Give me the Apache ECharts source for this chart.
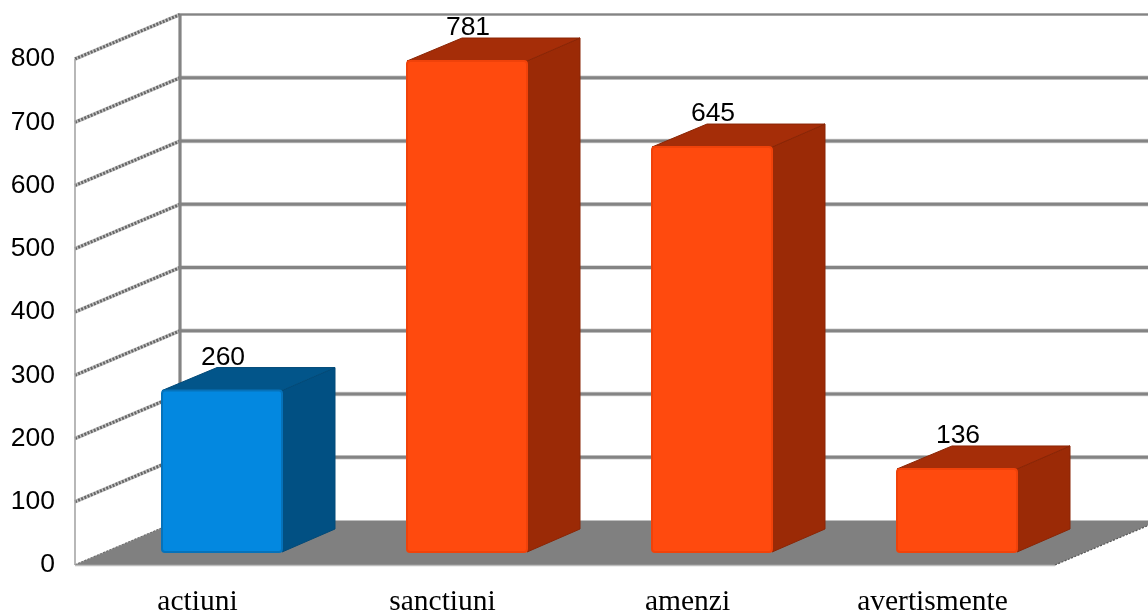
<!DOCTYPE html>
<html><head><meta charset="utf-8">
<style>html,body{margin:0;padding:0;background:#fff}#c{width:1148px;height:612px}</style>
<script src="https://cdn.jsdelivr.net/npm/echarts@6/dist/echarts.min.js"></script>
</head><body><div id="c"></div>
<script>
const categories = ['actiuni', 'sanctiuni', 'amenzi', 'avertismente'];
const values = [260, 781, 645, 136];
const yTicks = [0, 100, 200, 300, 400, 500, 600, 700, 800];

const palette = {
  blue: {front: '#0388e0', edge: '#0672ba', top: '#02558a', side: '#015083', line: '#024a78'},
  orange: {front: '#ff4a0e', edge: '#f0420a', top: '#a52d08', side: '#9b2a06', line: '#8a2505'}
};
const wallDx = 105, wallDy = 44.5;
const barDx = 53, barDy = 23, barW = 120, barShift = 24.5, barLift = 13, topLift = 10;

const chart = echarts.init(document.getElementById('c'));

function wall(params, api) {
  const v = api.value(0);
  const p = api.coord([0, v]);
  const left = params.coordSys.x;
  const rightEnd = left + params.coordSys.width + wallDx;
  const by = p[1] - wallDy;
  const bx = left + wallDx;
  const top = v === yTicks[yTicks.length - 1];
  const children = [];
  if (v > 0) {
    children.push(
      {type:'line', shape:{x1:bx, y1:by, x2:rightEnd, y2:by}, style:{stroke:'#cfcfcf', lineWidth: top ? 3 : 4.5}},
      {type:'line', shape:{x1:bx, y1:by, x2:rightEnd, y2:by}, style:{stroke:'#848484', lineWidth: top ? 1.8 : 3}}
    );
  }
  children.push(
    {type:'line', shape:{x1:left, y1:p[1], x2:bx, y2:by}, style:{stroke:'#c4c4c4', lineWidth: v === 0 ? 1.5 : 4}},
    {type:'line', shape:{x1:left, y1:p[1], x2:bx, y2:by}, style:{stroke:'#666', lineWidth: v === 0 ? 1.5 : 3, lineDash:[2, 1.4]}}
  );
  if (top) {
    const y0 = api.coord([0, 0])[1];
    children.push(
      {type:'line', shape:{x1:left, y1:p[1], x2:left, y2:y0}, style:{stroke:'#a6a6a6', lineWidth:1.6}},
      {type:'line', shape:{x1:bx, y1:by, x2:bx, y2:y0 - wallDy}, style:{stroke:'#848484', lineWidth:3.2}}
    );
  }
  return {type:'group', children};
}

function floor(params, api) {
  const p = api.coord([0, api.value(0)]);
  const left = params.coordSys.x, right = left + params.coordSys.width;
  return {type:'group', children:[
    {type:'polygon', shape:{points:[[left,p[1]],[right,p[1]],[right+wallDx,p[1]-wallDy],[left+wallDx,p[1]-wallDy]]},
     style:{fill:'#808080'}},
    {type:'line', shape:{x1:left,y1:p[1]+0.5,x2:right,y2:p[1]+0.5}, style:{stroke:'#bdbdbd', lineWidth:1.5}},
    {type:'line', shape:{x1:right,y1:p[1],x2:right+wallDx,y2:p[1]-wallDy}, style:{stroke:'#555', lineWidth:1.2, lineDash:[2,1.5]}}
  ]};
}

function bar(params, api) {
  const i = api.value(0), v = api.value(1);
  const c = i === 0 ? palette.blue : palette.orange;
  const base = api.coord([i, 0]);
  const top = api.coord([i, v]);
  const x0 = base[0] + barShift - barW / 2, x1 = x0 + barW;
  const yb = base[1] - barLift, yt = top[1] - topLift;
  return {type:'group', children:[
    {type:'polygon', shape:{points:[[x1,yt],[x1+barDx,yt-barDy],[x1+barDx,yb-barDy],[x1,yb]]},
     style:{fill:c.side, stroke:c.line, lineWidth:1, lineJoin:'round'}},
    {type:'polygon', shape:{points:[[x0,yt],[x0+barDx+2,yt-barDy],[x1+barDx,yt-barDy],[x1,yt]]},
     style:{fill:c.top, stroke:c.line, lineWidth:1, lineJoin:'round'}},
    {type:'rect', shape:{x:x0,y:yt,width:barW,height:yb-yt,r:3},
     style:{fill:c.front, stroke:c.edge, lineWidth:2}},
    {type:'text', x:x0 + barW/2 + 1, y:yt - barDy - 10,
     style:{text:String(v), fill:'#000', font:'26.5px "Liberation Sans"', align:'center', verticalAlign:'middle'}}
  ]};
}

chart.setOption({
  animation:false,
  backgroundColor:'#fff',
  grid:{left:75, right:93, top:59, bottom:47, outerBoundsMode:'none'},
  xAxis:{type:'category', data:categories, axisLine:{show:false}, axisTick:{show:false},
    axisLabel:{color:'#000', fontFamily:'Liberation Serif', fontSize:29.5, margin:22, interval:0}},
  yAxis:{type:'value', min:0, max:800, interval:100, axisLine:{show:false}, axisTick:{show:false}, splitLine:{show:false},
    axisLabel:{color:'#000', fontFamily:'Liberation Sans', fontSize:26.5, margin:20, padding:[5,0,0,0],
      customValues:yTicks}},
  series:[
    {type:'custom', renderItem:wall, data:yTicks.map(v=>[v]), encode:{y:0}, silent:true, z:1},
    {type:'custom', renderItem:floor, data:[[0]], encode:{y:0}, silent:true, z:2},
    {type:'custom', renderItem:bar, data:values.map((v,i)=>[i,v]), encode:{x:0,y:1}, silent:true, z:3}
  ]
});
</script></body></html>
